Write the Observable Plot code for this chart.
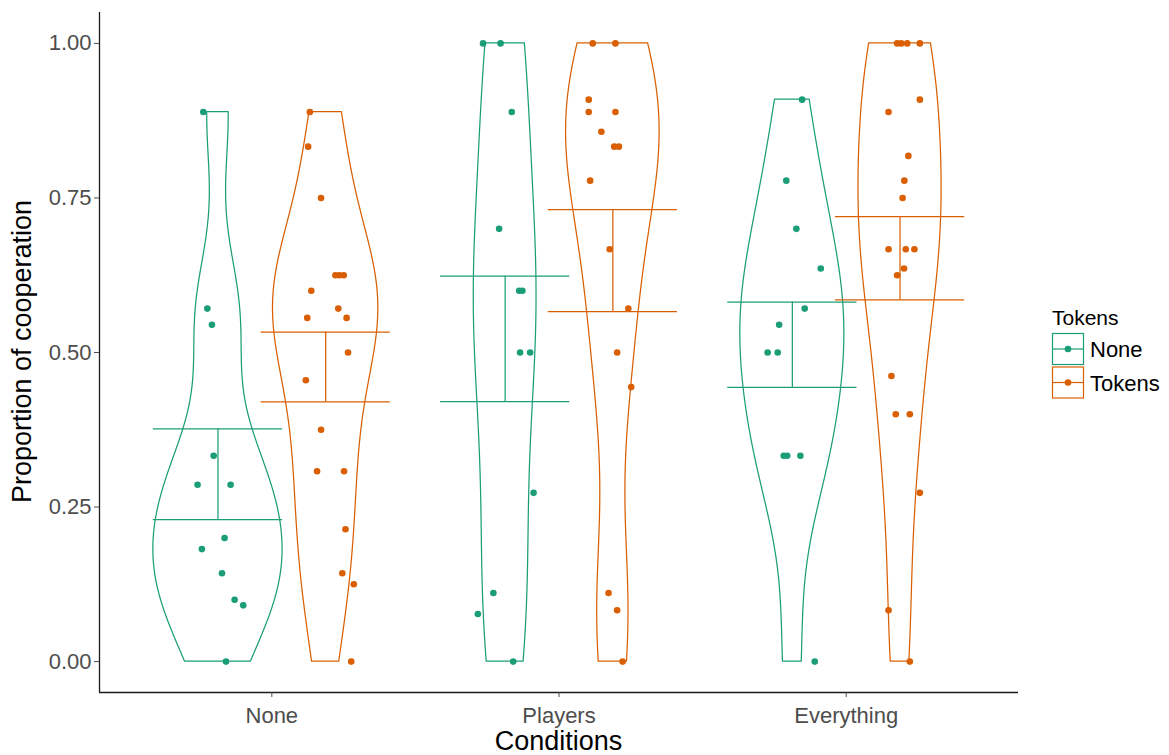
<!DOCTYPE html>
<html>
<head>
<meta charset="utf-8">
<script src="https://cdn.jsdelivr.net/npm/d3@7"></script>
<script src="https://cdn.jsdelivr.net/npm/@observablehq/plot@0.6"></script>
<style>
  body { margin: 0; background: #fff; }
  #chart { width: 1169px; height: 755px; }
</style>
</head>
<body>
<div id="chart"></div>
<script>
// Categories
const conditions = ["None", "Players", "Everything"];
const tokenLevels = ["None", "Tokens"];
const tokenColors = ["#1b9e77", "#d95f02"];
const yTicks = [0, 0.25, 0.5, 0.75, 1];

// Proportion of cooperation per participant, with the horizontal jitter of each dot
const coopNoneNone = [0.889, 0.571, 0.545, 0.333, 0.286, 0.286, 0.2, 0.182, 0.143, 0.1, 0.091, 0];
const jitterNoneNone = [-0.051, -0.037, -0.021, -0.015, -0.071, 0.044, 0.023, -0.056, 0.014, 0.058, 0.088, 0.028];

const coopNoneTokens = [0.889, 0.833, 0.75, 0.625, 0.625, 0.625, 0.6, 0.571, 0.556, 0.556, 0.5, 0.455, 0.375, 0.308, 0.308, 0.214, 0.143, 0.125, 0];
const jitterNoneTokens = [-0.055, -0.061, -0.016, 0.034, 0.048, 0.063, -0.05, 0.044, -0.064, 0.073, 0.078, -0.069, -0.016, -0.03, 0.064, 0.069, 0.058, 0.098, 0.089];

const coopPlayersNone = [1, 1, 0.889, 0.7, 0.6, 0.6, 0.5, 0.5, 0.273, 0.111, 0.077, 0];
const jitterPlayersNone = [-0.077, -0.016, 0.023, -0.021, 0.049, 0.06, 0.052, 0.087, 0.099, -0.041, -0.095, 0.028];

const coopPlayersTokens = [1, 1, 0.909, 0.889, 0.889, 0.857, 0.833, 0.833, 0.778, 0.667, 0.571, 0.5, 0.444, 0.111, 0.083, 0];
const jitterPlayersTokens = [-0.07, 0.009, -0.084, -0.084, 0.009, -0.04, 0.005, 0.021, -0.079, -0.011, 0.054, 0.015, 0.064, -0.015, 0.015, 0.034];

const coopEverythingNone = [0.909, 0.778, 0.7, 0.636, 0.571, 0.545, 0.5, 0.5, 0.333, 0.333, 0.333, 0];
const jitterEverythingNone = [0.034, -0.021, 0.014, 0.099, 0.043, -0.046, -0.086, -0.051, -0.03, -0.018, 0.028, 0.078];

const coopEverythingTokens = [1, 1, 1, 1, 0.909, 0.889, 0.818, 0.778, 0.75, 0.667, 0.667, 0.667, 0.636, 0.625, 0.462, 0.4, 0.4, 0.273, 0.083, 0];
const jitterEverythingTokens = [-0.01, 0.004, 0.025, 0.069, 0.069, -0.04, 0.029, 0.015, 0.009, -0.04, 0.02, 0.05, 0.014, -0.01, -0.03, -0.015, 0.034, 0.069, -0.04, 0.034];

// Mean and standard error per group (None/None, None/Tokens, Players/None, ...)
const groupMeans = [0.303, 0.4765, 0.522, 0.6485, 0.5125, 0.6525];
const groupSE = [0.0735, 0.0565, 0.1015, 0.0825, 0.069, 0.0675];

const groups = [
  {condition: "None", token: "None", values: coopNoneNone, jitter: jitterNoneNone},
  {condition: "None", token: "Tokens", values: coopNoneTokens, jitter: jitterNoneTokens},
  {condition: "Players", token: "None", values: coopPlayersNone, jitter: jitterPlayersNone},
  {condition: "Players", token: "Tokens", values: coopPlayersTokens, jitter: jitterPlayersTokens},
  {condition: "Everything", token: "None", values: coopEverythingNone, jitter: jitterEverythingNone},
  {condition: "Everything", token: "Tokens", values: coopEverythingTokens, jitter: jitterEverythingTokens}
];

// Dodged layout on a numeric x axis (conditions at 1, 2, 3)
const dodge = 0.1875;
const halfWidth = 0.225;
groups.forEach((g, i) => {
  g.key = g.condition + "/" + g.token;
  g.xc = conditions.indexOf(g.condition) + 1 + (g.token === "None" ? -dodge : dodge);
  g.mean = groupMeans[i];
  g.se = groupSE[i];
});

// Gaussian kernel density with Silverman's rule of thumb (bw.nrd0), trimmed to the data range
function bwNrd0(x) {
  const hi = d3.deviation(x);
  const iqr = d3.quantile(x, 0.75) - d3.quantile(x, 0.25);
  let lo = Math.min(hi, iqr / 1.34);
  if (!lo) lo = hi || Math.abs(x[0]) || 1;
  return 0.9 * lo * Math.pow(x.length, -0.2);
}
function density(values, n = 512) {
  const bw = bwNrd0(values);
  const [lo, hi] = d3.extent(values);
  const k = 1 / (values.length * bw * Math.sqrt(2 * Math.PI));
  return d3.range(n).map(i => {
    const y = lo + (hi - lo) * i / (n - 1);
    const d = k * d3.sum(values, v => Math.exp(-0.5 * ((y - v) / bw) ** 2));
    return {y, d};
  });
}
groups.forEach(g => g.dens = density(g.values));
const maxDensity = d3.max(groups, g => d3.max(g.dens, p => p.d));

const violinRows = groups.flatMap(g => g.dens.map(p => ({
  key: g.key, token: g.token, v: p.y,
  x1: g.xc - halfWidth * p.d / maxDensity,
  x2: g.xc + halfWidth * p.d / maxDensity
})));

const pointRows = groups.flatMap(g => g.values.map((v, i) => ({
  token: g.token, v, x: g.xc + g.jitter[i]
})));

const barRows = groups.map(g => ({
  token: g.token, xc: g.xc,
  lo: g.mean - g.se, hi: g.mean + g.se,
  xl: g.xc - halfWidth, xr: g.xc + halfWidth
}));

const fontFamily = "'Liberation Sans', Arial, Helvetica, sans-serif";

const chart = Plot.plot({
  width: 1169,
  height: 755,
  marginLeft: 99,
  marginRight: 151,
  marginTop: 12,
  marginBottom: 63,
  style: {fontFamily, background: "#fff", overflow: "visible"},
  x: {domain: [0.4, 3.6], axis: null},
  y: {domain: [-0.05, 1.05], axis: null},
  color: {domain: tokenLevels, range: tokenColors},
  marks: [
    Plot.areaX(violinRows, {y: "v", x1: "x1", x2: "x2", z: "key", fill: "none", stroke: "token", strokeWidth: 1.25, curve: "linear"}),
    Plot.ruleX(barRows, {x: "xc", y1: "lo", y2: "hi", stroke: "token", strokeWidth: 1.25}),
    Plot.ruleY(barRows, {y: "lo", x1: "xl", x2: "xr", stroke: "token", strokeWidth: 1.25}),
    Plot.ruleY(barRows, {y: "hi", x1: "xl", x2: "xr", stroke: "token", strokeWidth: 1.25}),
    Plot.dot(pointRows, {x: "x", y: "v", fill: "token", r: 3.3}),
    Plot.ruleX([0.4], {stroke: "#1a1a1a", strokeWidth: 1.3}),
    Plot.ruleY([-0.05], {stroke: "#1a1a1a", strokeWidth: 1.3}),
    Plot.axisY({ticks: yTicks, tickFormat: d3.format(".2f"), tickSize: 5, tickPadding: 3,
      fontSize: 22, color: "#4d4d4d", label: null}),
    Plot.axisX({ticks: [1, 2, 3], tickFormat: d => conditions[d - 1], tickSize: 5, tickPadding: 10,
      fontSize: 22, color: "#4d4d4d", label: null})
  ]
});

const svg = d3.select(chart);

// Axis titles
svg.append("text")
  .attr("transform", "translate(31,351.5) rotate(-90)")
  .attr("text-anchor", "middle")
  .attr("font-size", 27)
  .attr("fill", "#000")
  .text("Proportion of cooperation");
svg.append("text")
  .attr("x", 558.5).attr("y", 750)
  .attr("text-anchor", "middle")
  .attr("font-size", 27)
  .attr("fill", "#000")
  .text("Conditions");

// Legend for the Tokens grouping
const legend = svg.append("g").attr("transform", "translate(1052,0)").attr("text-anchor", "start");
legend.append("text").attr("x", 0).attr("y", 325).attr("font-size", 21).attr("fill", "#000").text("Tokens");
tokenLevels.forEach((t, i) => {
  const top = 333.5 + i * 33.5;
  const col = tokenColors[i];
  legend.append("rect").attr("x", 0.5).attr("y", top).attr("width", 31).attr("height", 31)
    .attr("fill", "#fff").attr("stroke", col).attr("stroke-width", 1.2);
  legend.append("line").attr("x1", 0.5).attr("x2", 31.5).attr("y1", top + 15.5).attr("y2", top + 15.5)
    .attr("stroke", col).attr("stroke-width", 1.2);
  legend.append("circle").attr("cx", 16).attr("cy", top + 15.5).attr("r", 3.3).attr("fill", col);
  legend.append("text").attr("x", 38).attr("y", top + 23.5).attr("font-size", 22).attr("fill", "#000").text(t);
});

document.getElementById("chart").appendChild(chart);
</script>
</body>
</html>
